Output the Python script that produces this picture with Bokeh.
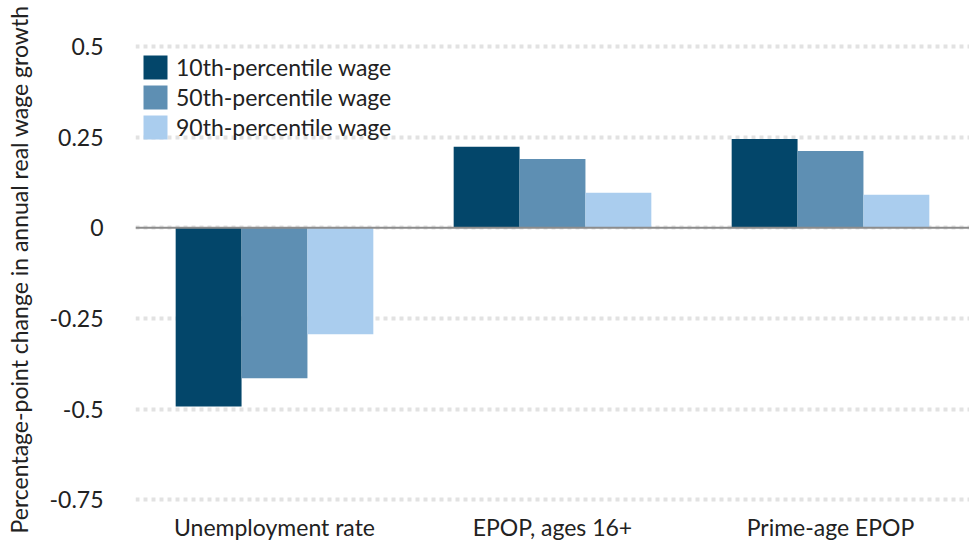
from bokeh.plotting import figure
from bokeh.models import FactorRange, Range1d, FixedTicker, Legend, LegendItem, Span, ColumnDataSource
from bokeh.transform import dodge
from bokeh.embed import file_html
from bokeh.resources import INLINE

categories = ["Unemployment rate", "EPOP, ages 16+", "Prime-age EPOP"]
series_names = ["10th-percentile wage", "50th-percentile wage", "90th-percentile wage"]
p10 = [-0.493, 0.224, 0.245]
p50 = [-0.415, 0.190, 0.212]
p90 = [-0.294, 0.097, 0.091]
colors = ["#03466a", "#5e8fb3", "#aacdee"]
y_ticks = [0.5, 0.25, 0, -0.25, -0.5, -0.75]
y_tick_labels = ["0.5", "0.25", "0", "-0.25", "-0.5", "-0.75"]

FONT = "Lato"
FS = "23px"
TXT = "#222222"

source = ColumnDataSource(data=dict(cat=categories, p10=p10, p50=p50, p90=p90))

p = figure(width=969, height=552, output_backend="svg", toolbar_location=None,
           x_range=FactorRange(*categories, range_padding=0),
           y_range=Range1d(-0.78, 0.55),
           min_border_top=28, min_border_left=135, min_border_right=0, min_border_bottom=42)
p.outline_line_color = None
p.background_fill_color = "white"

bw = 0.237
renderers = []
for i, (col, name) in enumerate(zip(["p10", "p50", "p90"], series_names)):
    r = p.vbar(x=dodge("cat", (i - 1) * bw, range=p.x_range), top=col, bottom=0,
               width=bw, source=source, fill_color=colors[i], line_color=None)
    renderers.append(r)

p.add_layout(Span(location=0, dimension="width", line_color="#8c8c8c", line_width=2))

p.xgrid.grid_line_color = None
p.ygrid.ticker = FixedTicker(ticks=y_ticks)
p.ygrid.grid_line_color = "#e2e2e2"
p.ygrid.grid_line_width = 4
p.ygrid.grid_line_dash = "4 4"

yax = p.yaxis[0]
yax.ticker = FixedTicker(ticks=y_ticks)
yax.major_label_overrides = {t: l for t, l in zip(y_ticks, y_tick_labels)}
yax.axis_line_color = None
yax.major_tick_line_color = None
yax.minor_tick_line_color = None
yax.major_tick_out = 0
yax.major_tick_in = 0
yax.major_label_standoff = 32
yax.major_label_text_font = FONT
yax.major_label_text_font_size = FS
yax.major_label_text_color = TXT
yax.axis_label = "Percentage-point change in annual real wage growth"
yax.axis_label_text_font = FONT
yax.axis_label_text_font_size = FS
yax.axis_label_text_font_style = "normal"
yax.axis_label_text_color = TXT
yax.axis_label_standoff = 14

xax = p.xaxis[0]
xax.axis_line_color = None
xax.major_tick_line_color = None
xax.minor_tick_line_color = None
xax.major_tick_out = 0
xax.major_tick_in = 0
xax.major_label_standoff = 2
xax.major_label_text_font = FONT
xax.major_label_text_font_size = FS
xax.major_label_text_color = TXT

legend = Legend(items=[LegendItem(label=n, renderers=[r]) for n, r in zip(series_names, renderers)],
                location=(5, 368), padding=0, margin=0, spacing=-6,
                glyph_width=30, glyph_height=30, label_height=30, label_standoff=6,
                label_text_font=FONT, label_text_font_size=FS, label_text_color=TXT,
                border_line_alpha=0, background_fill_alpha=0)
p.add_layout(legend, "center")

open("out.html", "w").write(file_html(p, INLINE))
